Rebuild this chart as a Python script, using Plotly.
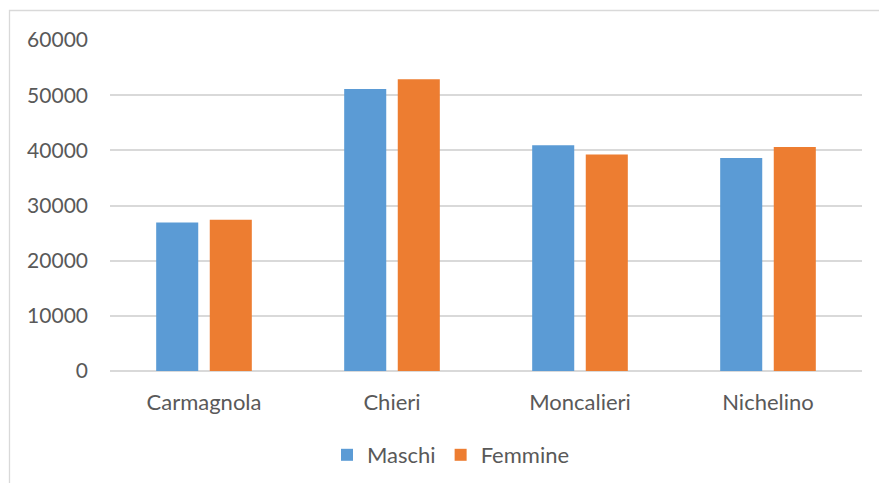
import plotly.graph_objects as go

# Popolazione per comune, divisa per sesso
comuni = ["Carmagnola", "Chieri", "Moncalieri", "Nichelino"]
maschi = [26900, 51100, 40900, 38600]
femmine = [27400, 52900, 39250, 40600]
y_ticks = [0, 10000, 20000, 30000, 40000, 50000, 60000]

W, H = 879, 483
L, R, T, B = 110, 17, 40, 112
pw, ph = W - L - R, H - T - B

text_color = "#595959"
grid_color = "#d9d9d9"
font_family = "Lato"

fig = go.Figure()
fig.add_trace(go.Bar(name="Maschi", x=comuni, y=maschi, marker_color="#5b9bd5",
                     marker_line_width=0))
fig.add_trace(go.Bar(name="Femmine", x=comuni, y=femmine, marker_color="#ed7d31",
                     marker_line_width=0))

# light frame around the chart area
def px_x(p):
    return (p - L) / pw

def px_y(p):
    return (H - B - p) / ph

fig.add_shape(type="rect", xref="paper", yref="paper",
              x0=px_x(9.5), x1=px_x(900), y0=px_y(10.5), y1=px_y(520),
              line=dict(color="#d9d9d9", width=1.3), fillcolor="rgba(0,0,0,0)",
              layer="below")

fig.update_layout(
    width=W, height=H,
    margin=dict(l=L, r=R, t=T, b=B, pad=0, autoexpand=False),
    paper_bgcolor="white", plot_bgcolor="white",
    barmode="group", bargap=0.43, bargroupgap=0.215,
    font=dict(family=font_family, size=22, color=text_color),
    showlegend=True,
    legend=dict(orientation="h", xref="container", yref="container",
                x=451 / W, xanchor="center",
                y=1 - 455 / H, yanchor="middle",
                font=dict(size=22, color=text_color), itemwidth=30,
                traceorder="normal", bgcolor="rgba(0,0,0,0)"),
    xaxis=dict(showgrid=False, showline=False, zeroline=False, ticks="",
               ticklabelstandoff=16, tickfont=dict(size=22, color=text_color)),
    yaxis=dict(range=[0, 60000], tickvals=y_ticks, ticktext=[str(v) for v in y_ticks],
               showgrid=True, gridcolor=grid_color, gridwidth=1.5,
               zeroline=True, zerolinecolor=grid_color, zerolinewidth=1.5,
               showline=False, ticks="", ticklabelstandoff=21,
               tickfont=dict(size=21, color=text_color)),
)

fig.write_html("out.html")
